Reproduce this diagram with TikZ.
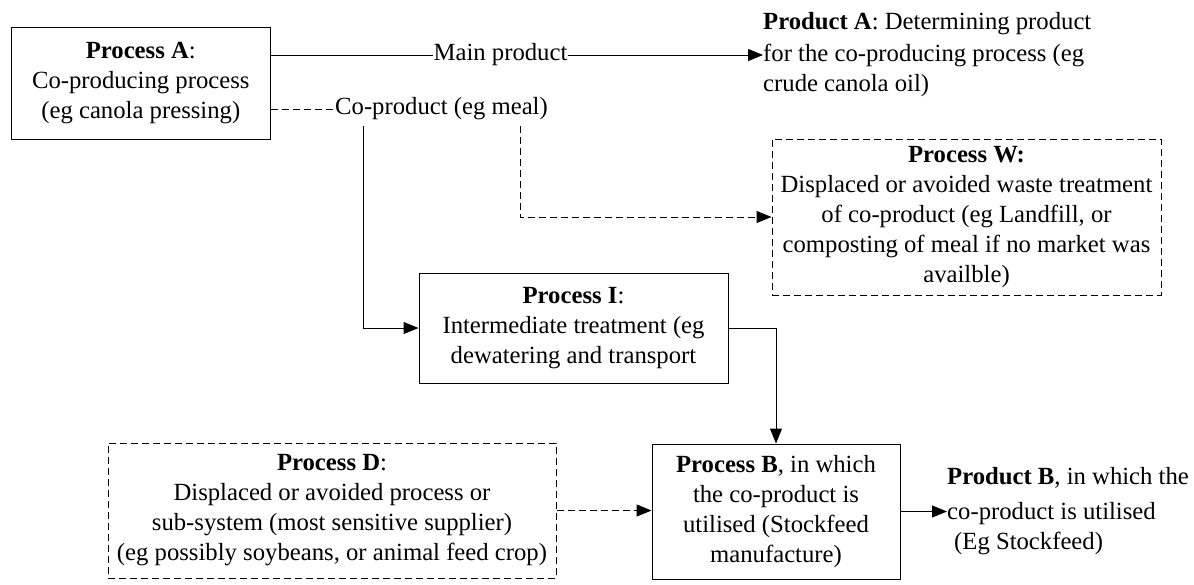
\documentclass[tikz,border=0pt]{standalone}
\usepackage{fontspec}
\setmainfont{Liberation Serif}
\usetikzlibrary{arrows.meta,calc}
\begin{document}
\begin{tikzpicture}[x=1pt,y=-1pt,
  every node/.style={font=\fontsize{24.7}{30}\selectfont},
  lbl/.style={inner sep=0pt},
  procbox/.style={draw, line width=1pt, align=center, inner sep=0pt},
  dashbox/.style={procbox, dash pattern=on 7pt off 4pt},
  conn/.style={line width=1pt},
  arr/.style={conn, -{Triangle[length=15pt,width=12pt]}},
  dconn/.style={conn, dash pattern=on 7pt off 4pt}]
\useasboundingbox (0,0) rectangle (1194,584);

\node[procbox, minimum width=258.5pt, minimum height=112pt] (A) at (140.8,83)
  {\textbf{Process A}:\\Co-producing process\\(eg canola pressing)};
\node[lbl] (mp) at (500.5,55) {Main product};
\node[lbl, anchor=west, align=left] (pa) at (763,55)
  {\textbf{Product A}: Determining product\\[2pt]for the co-producing process (eg\\crude canola oil)};
\node[lbl, inner ysep=6pt] (cp) at (441.5,109) {Co-product (eg meal)};
\coordinate (s1) at (363,0);
\coordinate (s2) at (520,0);

\node[dashbox, minimum width=389pt, minimum height=156pt] (W) at (966.5,217)
  {\textbf{Process W:}\\Displaced or avoided waste treatment\\of co-product (eg Landfill, or\\composting of meal if no market was\\availble)};
\node[procbox, minimum width=309pt, minimum height=110pt] (I) at (573.5,328)
  {\textbf{Process I}:\\Intermediate treatment (eg\\dewatering and transport};
\node[procbox, minimum width=248pt, minimum height=135pt] (B) at (776,511.5)
  {\textbf{Process B}, in which\\the co-product is\\utilised (Stockfeed\\manufacture)};
\node[dashbox, minimum width=448pt, minimum height=135pt] (D) at (332,510.5)
  {\textbf{Process D}:\\Displaced or avoided process or\\sub-system (most sensitive supplier)\\(eg possibly soybeans, or animal feed crop)};
\node[lbl, anchor=west, align=left] (pb) at (947,511)
  {\textbf{Product B}, in which the\\[5pt]co-product is utilised\\\hspace*{7pt}(Eg Stockfeed)};

\draw[conn] (A.east |- mp.west) -- (mp.west);
\draw[arr] (mp.east) -- (pa.west |- mp.east);
\draw[dconn] (A.east |- cp.west) -- (cp.west);
\draw[arr] (cp.south -| s1) |- (I.west);
\draw[arr, dconn] (cp.south -| s2) |- (W.west);
\draw[arr] (I.east) -| (B.north);
\draw[arr, dconn] (D.east) -- (B.west |- D.east);
\draw[arr] (B.east) -- (pb.west |- B.east);
\end{tikzpicture}
\end{document}
